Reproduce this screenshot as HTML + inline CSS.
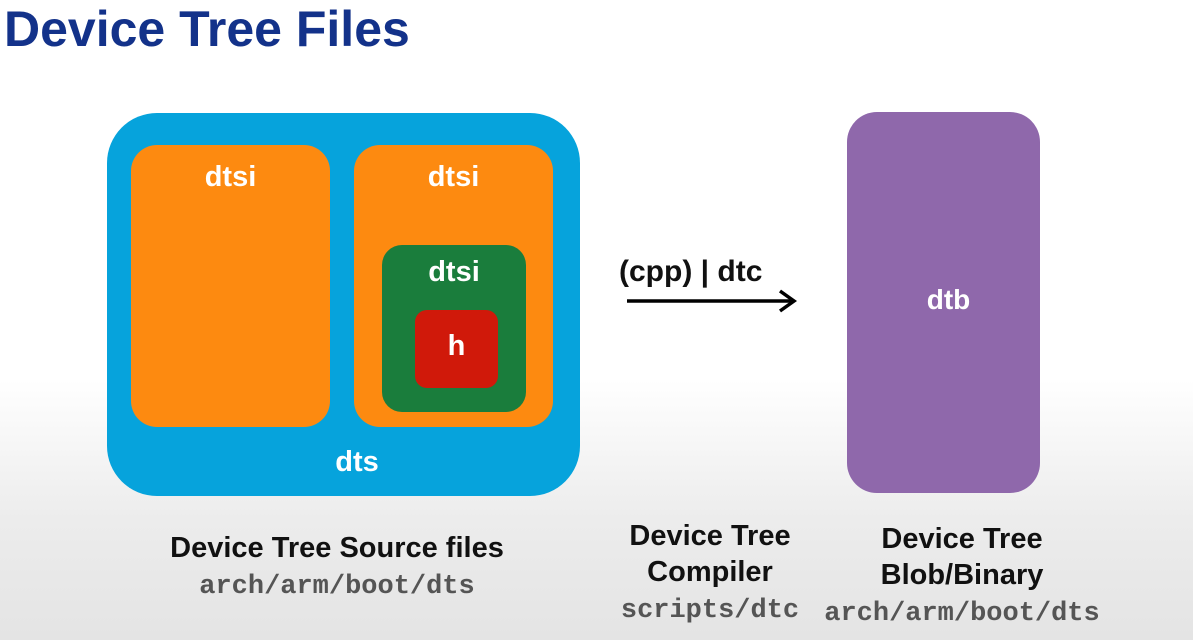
<!DOCTYPE html>
<html><head><style>
body{margin:0;width:1193px;height:640px;overflow:hidden;background:linear-gradient(#fff 0,#fff 380px,#ececec 520px,#e4e4e4 640px);font-family:"Liberation Sans",sans-serif;position:relative}
div{position:absolute;box-sizing:border-box}
.t{color:#fff;font-weight:bold;font-size:29px;text-align:center}
.l{color:#111;font-weight:bold;font-size:29px;text-align:center;line-height:36px}
.m{font-family:"Liberation Mono",monospace;color:#555;font-size:27px;font-weight:bold}
</style></head><body>
<div style="left:4px;top:0px;font-size:50px;font-weight:bold;color:#13328a;letter-spacing:0">Device Tree Files</div>
<div style="left:107px;top:113px;width:473px;height:383px;background:#06a3dc;border-radius:50px"></div>
<div class="t" style="left:107px;top:446px;width:500px">dts</div>
<div style="left:131px;top:145px;width:199px;height:282px;background:#fd8a10;border-radius:26px"></div>
<div class="t" style="left:131px;top:161px;width:199px">dtsi</div>
<div style="left:354px;top:145px;width:199px;height:282px;background:#fd8a10;border-radius:26px"></div>
<div class="t" style="left:354px;top:161px;width:199px">dtsi</div>
<div style="left:382px;top:245px;width:144px;height:167px;background:#1a7d3c;border-radius:20px"></div>
<div class="t" style="left:382px;top:256px;width:144px">dtsi</div>
<div style="left:415px;top:310px;width:83px;height:78px;background:#d0190a;border-radius:12px"></div>
<div class="t" style="left:415px;top:330px;width:83px">h</div>
<div style="left:847px;top:112px;width:193px;height:381px;background:#8f68ab;border-radius:30px"></div>
<div class="t" style="left:847px;top:284px;width:203px;font-size:28px">dtb</div>
<div style="left:619px;top:255px;font-size:30px;font-weight:bold;color:#111">(cpp) | dtc</div>
<svg style="position:absolute;left:620px;top:285px" width="190" height="32"><line x1="7" y1="16" x2="172" y2="16" stroke="#000" stroke-width="3.5"/><path d="M160 6 L174 16 L160 26" fill="none" stroke="#000" stroke-width="3.5"/></svg>
<div class="l" style="left:137px;top:530px;width:400px">Device Tree Source files<br><span class="m">arch/arm/boot/dts</span></div>
<div class="l" style="left:600px;top:518px;width:220px">Device Tree<br>Compiler<br><span class="m">scripts/dtc</span></div>
<div class="l" style="left:812px;top:521px;width:300px">Device Tree<br>Blob/Binary<br><span class="m">arch/arm/boot/dts</span></div>
</body></html>
